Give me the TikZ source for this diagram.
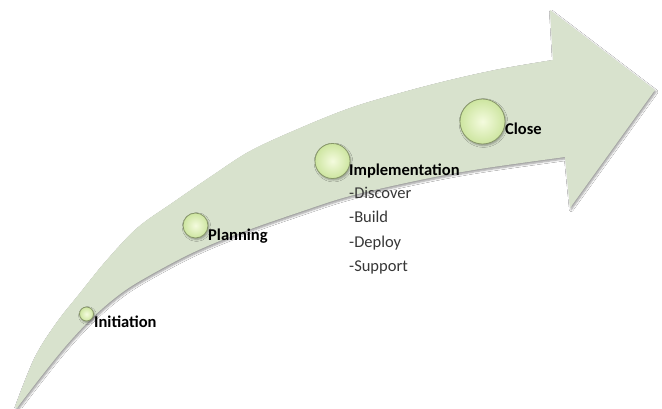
\documentclass[tikz,border=0pt]{standalone}
\usepackage{fontspec}
\setmainfont{Carlito}
\usetikzlibrary{shadows.blur}
\definecolor{arrowfill}{RGB}{216,226,205}
\definecolor{ballin}{RGB}{244,251,222}
\definecolor{ballout}{RGB}{205,229,160}
\definecolor{ballline}{RGB}{135,150,105}
\definecolor{itemtext}{RGB}{55,55,55}
\begin{document}
\begin{tikzpicture}[x=1pt,y=-1pt,
  ball/.style={circle, inner sep=0pt, minimum size=#1, draw=ballline, line width=0.8pt,
    inner color=ballin, outer color=ballout,
    blur shadow={shadow xshift=1pt, shadow yshift=-1.5pt, shadow blur steps=4, shadow opacity=35}},
  phase/.style={anchor=base west, inner sep=0pt, text=black, font=\fontsize{16.5}{19}\selectfont\bfseries},
  itemtxt/.style={anchor=base west, inner sep=0pt, text=itemtext, font=\fontsize{16.5}{19}\selectfont}]
\useasboundingbox (0,0) rectangle (662,408);
\fill[white] (0,0) rectangle (662,408);
% curved arrow
\path[fill=arrowfill, blur shadow={shadow xshift=1.2pt, shadow yshift=-1.8pt, shadow blur steps=5, shadow opacity=40}]
  plot[smooth, tension=0.55] coordinates {(15,407) (35,357) (57,322) (80,293) (105,262) (137,228) (172,203) (210,177) (250,151) (300,128) (350,108) (400,93) (450,80) (500,69) (553,60)}
  -- (550,10) -- (655,90) -- (570,208) -- (565,157)
  -- plot[smooth, tension=0.55] coordinates {(565,157) (480,169) (420,180) (350,196) (300,212) (240,233) (190,254) (140,281) (115,298) (90,320) (65,347) (40,378) (17,408)}
  -- cycle;
% milestones
\node[ball=14pt] (b1) at (86.5,314) {};
\node[ball=25pt] (b2) at (195.5,225.5) {};
\node[ball=35pt] (b3) at (332.5,161) {};
\node[ball=45pt] (b4) at (482.5,121.5) {};
% labels
\node[phase] (t1) at (94,327) {Initiation};
\node[phase] (t2) at (208,240) {Planning};
\node[phase] (t3) at (349,175) {Implementation};
\node[itemtxt] (i1) at (349,198) {-Discover};
\node[itemtxt] (i2) at (349,222.5) {-Build};
\node[itemtxt] (i3) at (349,247) {-Deploy};
\node[itemtxt] (i4) at (349,271) {-Support};
\node[phase] (t4) at (505,134) {Close};
\end{tikzpicture}
\end{document}
